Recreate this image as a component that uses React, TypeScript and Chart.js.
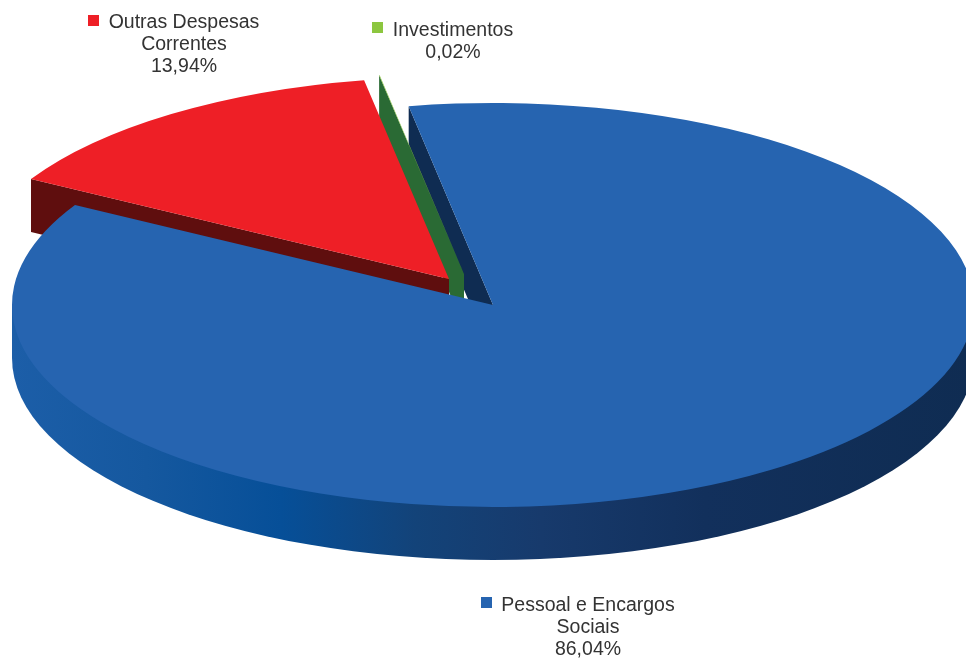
import React, { useEffect, useRef } from "react";
import { Chart, registerables } from "chart.js";

Chart.register(...registerables);

const categories = ["Outras Despesas Correntes", "Investimentos", "Pessoal e Encargos Sociais"];
const values = [13.94, 0.02, 86.04];
const topColors = ["#ee1f26", "#8cc63f", "#2664b0"];
const wallColors = ["#5f0e0e", "#2a6a34", "#0f2c52"];
const legendLines = [
  ["Outras Despesas", "Correntes", "13,94%"],
  ["Investimentos", "0,02%"],
  ["Pessoal e Encargos", "Sociais", "86,04%"],
];

const W = 966, H = 661;
const CX = 493, CY = 305, RX = 481, RY = 202, DEPTH = 53;
const EXPLODE = [[-44, -26], [-29, -31], [0, 0]];
const LEGEND_POS = [
  { cx: 184, y: 23, mx: 88, my: 15 },
  { cx: 453, y: 30.5, mx: 372, my: 22 },
  { cx: 588, y: 606, mx: 481, my: 597 },
];
const LEGEND_FONT = '19.5px "Liberation Sans", Arial, sans-serif';
const LINE_H = 22;
const WALL_STOPS: [number, string][] = [
  [0, "#1c5ea8"], [0.14, "#15589f"], [0.28, "#064f98"], [0.42, "#134379"],
  [0.55, "#173a6c"], [0.72, "#12305c"], [1, "#0f2c52"],
];

const depth3d = {
  id: "depth3d",
  afterDatasetsUpdate(chart: any) {
    const arcs = chart.getDatasetMeta(0).data;
    const R = arcs[0].outerRadius;
    arcs.forEach((a: any, i: number) => {
      a.x = chart.width / 2 + (EXPLODE[i][0] * R) / RX;
      a.y = chart.height / 2 + (EXPLODE[i][1] * R) / RY;
    });
  },
  beforeDatasetsDraw(chart: any) {
    const ctx = chart.ctx;
    const arcs = chart.getDatasetMeta(0).data;
    const R = arcs[0].outerRadius;
    const geom = (i: number) => ({
      x: CX + EXPLODE[i][0],
      y: CY + EXPLODE[i][1],
      a0: arcs[i].startAngle,
    });
    const cutFace = (i: number, angle: number) => {
      const g = geom(i);
      const ex = g.x + RX * Math.cos(angle);
      const ey = g.y + RY * Math.sin(angle);
      ctx.fillStyle = wallColors[i];
      ctx.beginPath();
      ctx.moveTo(g.x, g.y);
      ctx.lineTo(ex, ey);
      ctx.lineTo(ex, ey + DEPTH);
      ctx.lineTo(g.x, g.y + DEPTH);
      ctx.closePath();
      ctx.fill();
    };
    ctx.save();
    // Pessoal e Encargos: cut face at its start, and outer wall
    cutFace(2, geom(2).a0);
    const g = ctx.createLinearGradient(CX - RX, 0, CX + RX, 0);
    WALL_STOPS.forEach(([o, c]) => g.addColorStop(o, c));
    ctx.fillStyle = g;
    ctx.beginPath();
    ctx.moveTo(CX - RX, CY);
    ctx.lineTo(CX + RX, CY);
    ctx.lineTo(CX + RX, CY + DEPTH);
    ctx.ellipse(CX, CY + DEPTH, RX, RY, 0, 0, Math.PI, false);
    ctx.closePath();
    ctx.fill();
    // Investimentos cut face
    cutFace(1, geom(1).a0);
    // Outras Despesas cut face at its start
    cutFace(0, geom(0).a0);
    ctx.restore();

    ctx.save();
    ctx.translate(CX, CY);
    ctx.scale(RX / R, RY / R);
    ctx.translate(-chart.width / 2, -chart.height / 2);
  },
  afterDatasetsDraw(chart: any) {
    chart.ctx.restore();
  },
  afterDraw(chart: any) {
    const ctx = chart.ctx;
    ctx.save();
    ctx.font = LEGEND_FONT;
    ctx.textAlign = "center";
    ctx.textBaseline = "middle";
    legendLines.forEach((lines, i) => {
      const p = LEGEND_POS[i];
      ctx.fillStyle = topColors[i];
      ctx.fillRect(p.mx, p.my, 11, 11);
      ctx.fillStyle = "#333333";
      lines.forEach((t, k) => ctx.fillText(t, p.cx, p.y + k * LINE_H));
    });
    ctx.restore();
  },
};

export default function App() {
  const ref = useRef<HTMLCanvasElement>(null);
  useEffect(() => {
    document.body.style.margin = "0";
    const chart = new Chart(ref.current!, {
      type: "pie",
      data: {
        labels: categories,
        datasets: [{
          data: values,
          backgroundColor: topColors,
          borderWidth: 0,
          clip: false,
        } as any],
      },
      options: {
        responsive: false,
        animation: false,
        rotation: -60.35,
        layout: { padding: 0 },
        plugins: { legend: { display: false }, tooltip: { enabled: false } },
      },
      plugins: [depth3d],
    });
    return () => chart.destroy();
  }, []);
  return <canvas ref={ref} width={W} height={H} style={{ display: "block" }} />;
}
